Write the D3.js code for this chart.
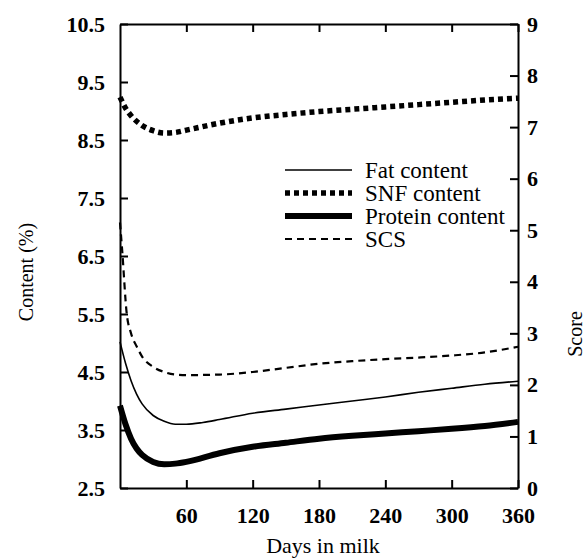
<!DOCTYPE html>
<html>
<head>
<meta charset="utf-8">
<script src="https://cdn.jsdelivr.net/npm/d3@7"></script>
<style>
  body { margin: 0; background: #fff; }
  svg { display: block; }
</style>
</head>
<body>
<svg id="chart"></svg>
<script>
// days in milk
const fatDays = [0, 5, 10, 15, 20, 30, 40, 50, 60, 75, 90, 120, 150, 180, 210, 240, 270, 300, 330, 360];
const fatValues = [5.02, 4.65, 4.35, 4.12, 3.95, 3.75, 3.65, 3.6, 3.6, 3.63, 3.68, 3.79, 3.86, 3.93, 4.0, 4.07, 4.15, 4.22, 4.29, 4.34];

const snfDays = [0, 5, 10, 20, 30, 40, 50, 60, 90, 120, 150, 180, 210, 240, 270, 300, 330, 360];
const snfValues = [9.24, 9.05, 8.92, 8.75, 8.66, 8.62, 8.63, 8.67, 8.79, 8.88, 8.94, 8.99, 9.03, 9.07, 9.11, 9.15, 9.19, 9.22];

const proteinDays = [0, 5, 10, 15, 20, 30, 40, 50, 60, 90, 120, 150, 180, 210, 240, 270, 300, 330, 360];
const proteinValues = [3.92, 3.6, 3.35, 3.18, 3.07, 2.95, 2.91, 2.92, 2.95, 3.1, 3.21, 3.28, 3.35, 3.4, 3.44, 3.48, 3.52, 3.57, 3.64];

const scsDays = [0, 2, 6, 10, 15, 20, 30, 40, 50, 60, 90, 120, 150, 180, 210, 240, 270, 300, 330, 360];
const scsValues = [5.15, 4.6, 3.4, 3.0, 2.75, 2.55, 2.35, 2.25, 2.2, 2.19, 2.2, 2.25, 2.33, 2.41, 2.46, 2.5, 2.53, 2.57, 2.63, 2.74];

const xTicks = [60, 120, 180, 240, 300, 360];
const leftTicks = [2.5, 3.5, 4.5, 5.5, 6.5, 7.5, 8.5, 9.5, 10.5];
const rightTicks = [0, 1, 2, 3, 4, 5, 6, 7, 8, 9];

const legendNames = ['Fat content', 'SNF content', 'Protein content', 'SCS'];

const width = 585, height = 560;
const margin = { top: 24, right: 67, bottom: 72, left: 120 };
const innerW = width - margin.left - margin.right;
const innerH = height - margin.top - margin.bottom;

const svg = d3.select('#chart').attr('width', width).attr('height', height);
const g = svg.append('g').attr('transform', `translate(${margin.left},${margin.top})`);

const x = d3.scaleLinear().domain([0, 360]).range([0, innerW]);
const yL = d3.scaleLinear().domain([2.5, 10.5]).range([innerH, 0]);
const yR = d3.scaleLinear().domain([0, 9]).range([innerH, 0]);

const font = '"Liberation Serif", "Times New Roman", serif';

// axes: ticks point inward
const axBottom = g.append('g').attr('transform', `translate(0,${innerH})`)
  .call(d3.axisBottom(x).tickValues(xTicks).tickSize(-8).tickPadding(19).tickSizeOuter(0));
const axTop = g.append('g')
  .call(d3.axisTop(x).tickValues(xTicks).tickSize(-8).tickFormat('').tickSizeOuter(0));
const axLeft = g.append('g')
  .call(d3.axisLeft(yL).tickValues(leftTicks).tickSize(-8).tickPadding(15).tickFormat(d3.format('.1f')).tickSizeOuter(0));
const axRight = g.append('g').attr('transform', `translate(${innerW},0)`)
  .call(d3.axisRight(yR).tickValues(rightTicks).tickSize(-8).tickPadding(9).tickSizeOuter(0));

[axBottom, axTop, axLeft, axRight].forEach(a => {
  a.select('.domain').attr('stroke', '#000').attr('stroke-width', 2);
  a.selectAll('.tick line').attr('stroke', '#000').attr('stroke-width', 2);
  a.selectAll('.tick text')
    .attr('fill', '#000')
    .style('font-family', font)
    .style('font-size', '22px')
    .style('font-weight', 'bold');
});

// series
const lineL = d3.line().x(d => x(d[0])).y(d => yL(d[1])).curve(d3.curveMonotoneX);
const lineR = d3.line().x(d => x(d[0])).y(d => yR(d[1])).curve(d3.curveMonotoneX);

const styles = [
  { width: 1.6, dash: null },
  { width: 5.5, dash: '5,4' },
  { width: 6, dash: null },
  { width: 2.2, dash: '7,5' }
];

const series = [
  { path: lineL(d3.zip(fatDays, fatValues)), s: styles[0] },
  { path: lineL(d3.zip(snfDays, snfValues)), s: styles[1] },
  { path: lineL(d3.zip(proteinDays, proteinValues)), s: styles[2] },
  { path: lineR(d3.zip(scsDays, scsValues)), s: styles[3] }
];

series.forEach(d => {
  g.append('path')
    .attr('d', d.path)
    .attr('fill', 'none')
    .attr('stroke', '#000')
    .attr('stroke-width', d.s.width)
    .attr('stroke-dasharray', d.s.dash);
});

// legend
const legend = g.append('g').attr('transform', 'translate(165,146)');
legendNames.forEach((name, i) => {
  const row = legend.append('g').attr('transform', `translate(0,${i * 23})`);
  row.append('line')
    .attr('x1', 0).attr('x2', 67).attr('y1', 0).attr('y2', 0)
    .attr('stroke', '#000')
    .attr('stroke-width', styles[i].width)
    .attr('stroke-dasharray', styles[i].dash);
  row.append('text')
    .attr('x', 80).attr('y', 0).attr('dy', '0.34em')
    .style('font-family', font)
    .style('font-size', '23px')
    .text(name);
});

// axis titles
svg.append('text')
  .attr('x', margin.left + innerW / 2 + 4).attr('y', 553)
  .attr('text-anchor', 'middle')
  .style('font-family', font).style('font-size', '22px')
  .text('Days in milk');

svg.append('text')
  .attr('transform', 'translate(33,272) rotate(-90)')
  .attr('text-anchor', 'middle')
  .style('font-family', font).style('font-size', '20px')
  .text('Content (%)');

svg.append('text')
  .attr('transform', 'translate(582,334) rotate(-90)')
  .attr('text-anchor', 'middle')
  .style('font-family', font).style('font-size', '20px')
  .text('Score');
</script>
</body>
</html>
